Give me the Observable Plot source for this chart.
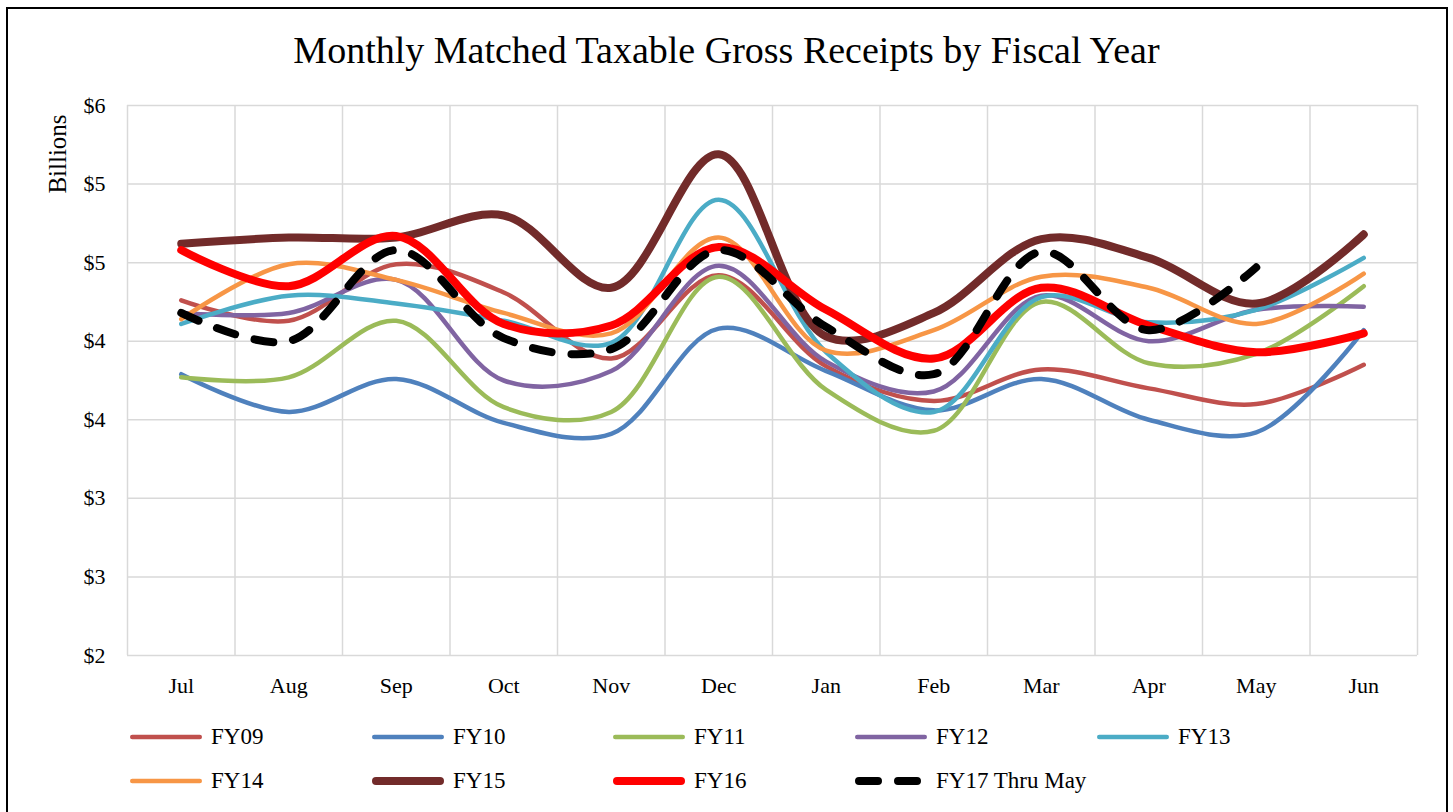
<!DOCTYPE html>
<html>
<head>
<meta charset="utf-8">
<script src="https://cdn.jsdelivr.net/npm/d3@7"></script>
<script src="https://cdn.jsdelivr.net/npm/@observablehq/plot@0.6"></script>
<style>
  html, body { margin: 0; padding: 0; background: #fff; }
  #wrap { position: relative; width: 1453px; height: 812px; overflow: hidden; background: #fff;
          font-family: "Liberation Serif", "DejaVu Serif", serif; color: #000; }
  #frame { position: absolute; left: 6px; top: 7px; width: 1442px; height: 900px;
           border: 2.5px solid #000; box-sizing: border-box; pointer-events: none; }
  #title { position: absolute; left: 0; width: 1453px; top: 27px; text-align: center;
           font-size: 38px; line-height: 46px; }
  #ylabel { position: absolute; left: 58px; top: 154px; transform: translate(-50%, -50%) rotate(-90deg);
            font-size: 25px; white-space: nowrap; }
  #chart { position: absolute; left: 0; top: 0; }
  .leg { position: absolute; display: flex; align-items: center; font-size: 23px; white-space: nowrap; }
  .leg svg { margin-right: 5px; }
</style>
</head>
<body>
<div id="wrap">
  <div id="chart"></div>
  <div id="title">Monthly Matched Taxable Gross Receipts by Fiscal Year</div>
  <div id="ylabel">Billions</div>
  <div id="legend"></div>
  <div id="frame"></div>
</div>
<script>
const months = ["Jul","Aug","Sep","Oct","Nov","Dec","Jan","Feb","Mar","Apr","May","Jun"];
const yTicks = [2, 2.5, 3, 3.5, 4, 4.5, 5, 5.5];

const FY09 = [4.26, 4.13, 4.49, 4.31, 3.89, 4.42, 3.84, 3.62, 3.82, 3.70, 3.60, 3.85];
const FY10 = [3.79, 3.55, 3.76, 3.48, 3.41, 4.08, 3.81, 3.56, 3.76, 3.50, 3.42, 4.07];
const FY11 = [3.77, 3.77, 4.13, 3.58, 3.55, 4.41, 3.69, 3.43, 4.25, 3.86, 3.92, 4.35];
const FY12 = [4.18, 4.18, 4.39, 3.75, 3.81, 4.48, 3.87, 3.68, 4.29, 4.00, 4.20, 4.22];
const FY13 = [4.11, 4.29, 4.24, 4.13, 3.99, 4.90, 3.93, 3.55, 4.28, 4.12, 4.20, 4.53];
const FY14 = [4.14, 4.49, 4.39, 4.18, 4.05, 4.66, 3.94, 4.07, 4.41, 4.34, 4.11, 4.43];
const FY15 = [4.62, 4.66, 4.66, 4.80, 4.34, 5.19, 4.03, 4.18, 4.65, 4.53, 4.24, 4.68];
const FY16 = [4.58, 4.35, 4.67, 4.11, 4.10, 4.60, 4.20, 3.89, 4.34, 4.10, 3.93, 4.05];
const FY17 = [4.18, 4.00, 4.58, 4.02, 3.95, 4.58, 4.09, 3.79, 4.57, 4.07, 4.47];

const seriesNames = ["FY09","FY10","FY11","FY12","FY13","FY14","FY15","FY16","FY17 Thru May"];
const seriesValues = [FY09, FY10, FY11, FY12, FY13, FY14, FY15, FY16, FY17];
const seriesColors = ["#C0504D","#4F81BD","#9BBB59","#8064A2","#4BACC6","#F79646","#722B2A","#FF0000","#000000"];
const seriesWidths = [4.5, 4.5, 4.5, 4.5, 4.5, 4.5, 8, 8, 8];
const seriesDash = [null, null, null, null, null, null, null, null, "19,20"];

const series = seriesNames.map((name, k) => ({
  name, color: seriesColors[k], width: seriesWidths[k], dash: seriesDash[k],
  data: seriesValues[k].map((v, i) => ({i, month: months[i], value: v}))
}));

const gridX = d3.range(months.length + 1).map(i => i - 0.5);
const gridColor = "#d9d9d9";

const chart = Plot.plot({
  width: 1453,
  height: 720,
  marginTop: 105,
  marginBottom: 65,
  marginLeft: 127,
  marginRight: 36,
  style: {fontFamily: '"Liberation Serif", "DejaVu Serif", serif', fontSize: "22px", background: "transparent", color: "#000"},
  x: {type: "linear", domain: [-0.5, months.length - 0.5], ticks: d3.range(months.length),
      tickFormat: i => months[i], tickSize: 0, tickPadding: 22, label: null},
  y: {domain: [2, 5.5], ticks: yTicks, tickFormat: d => "$" + Math.round(d),
      tickSize: 0, tickPadding: 22, label: null},
  marks: [
    Plot.ruleY(yTicks, {stroke: gridColor, strokeWidth: 1.5}),
    Plot.ruleX(gridX, {stroke: gridColor, strokeWidth: 1.5}),
    ...series.map(s => Plot.line(s.data, {
      x: "i", y: "value", stroke: s.color, strokeWidth: s.width,
      strokeDasharray: s.dash, strokeLinecap: "round", strokeLinejoin: "round",
      curve: "catmull-rom"
    }))
  ]
});
chart.querySelectorAll("text").forEach(t => t.setAttribute("fill", "#000"));
document.getElementById("chart").appendChild(chart);

// Legend
const legCols = [130, 372, 613, 855, 1097];
const legRows = [737, 781];
const legend = document.getElementById("legend");
series.forEach((s, k) => {
  const col = k < 5 ? k : k - 5;
  const row = k < 5 ? 0 : 1;
  const div = document.createElement("div");
  div.className = "leg";
  div.style.left = (legCols[col] - 4) + "px";
  div.style.top = (legRows[row] - 16) + "px";
  div.style.height = "32px";
  const w = 80;
  div.innerHTML = `<svg width="${w}" height="32"><line x1="${4 + s.width/2}" x2="${4 + 72 - s.width/2}" y1="16" y2="16" stroke="${s.color}" stroke-width="${s.width}" stroke-linecap="round" ${s.dash ? `stroke-dasharray="${s.dash}"` : ""}/></svg><span>${s.name}</span>`;
  legend.appendChild(div);
});
</script>
</body>
</html>
